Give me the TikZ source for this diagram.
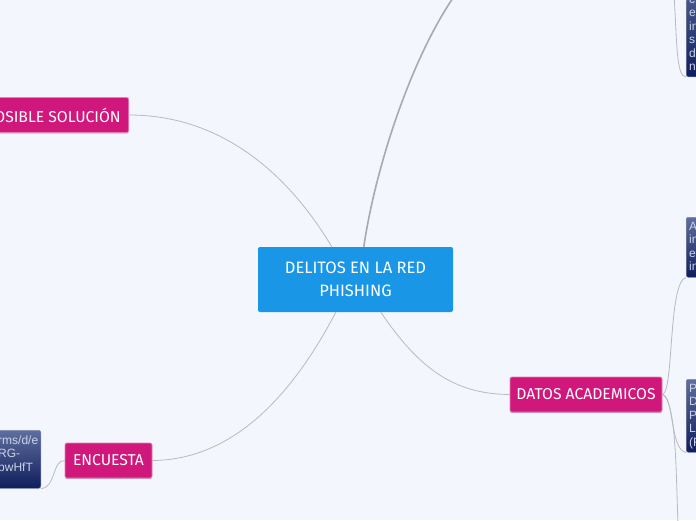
\documentclass[tikz,border=0pt]{standalone}
\usepackage{fontspec}
\setmainfont{Liberation Sans}
\newfontfamily\handfont{Fira Sans}
\usetikzlibrary{shadows,calc}
\definecolor{bg}{HTML}{F3F6FD}
\definecolor{centralblue}{HTML}{1A96E6}
\definecolor{magcol}{HTML}{D0187C}
\definecolor{navytop}{HTML}{5E6E9E}
\definecolor{navybot}{HTML}{0F1E5C}
\definecolor{navyedge}{HTML}{7C88AE}
\definecolor{boxtxt}{HTML}{CDD3E6}
\definecolor{linegray}{HTML}{B8BAC2}
\definecolor{maingray}{HTML}{A9A9AE}
\begin{document}
\begin{tikzpicture}[x=1pt,y=-1pt,
  central/.style={rectangle, rounded corners=2pt, fill=centralblue, text=white,
    font=\handfont\fontsize{16.5}{22.5}\selectfont, align=center, inner sep=0pt},
  topic/.style={rectangle, rounded corners=2pt, fill=magcol, draw=magcol!55!white,
    line width=0.7pt, text=white, font=\handfont\fontsize{15.7}{18}\selectfont,
    inner ysep=0pt, inner xsep=5pt, minimum height=35pt,
    drop shadow={shadow xshift=0pt, shadow yshift=-1.2pt, opacity=0.25, fill=black}},
  navybox/.style={rectangle, rounded corners=2pt, top color=navytop, bottom color=navybot,
    draw=navyedge, line width=0.5pt, inner sep=0pt},
  boxtext/.style={text=boxtxt, font=\fontsize{12}{13.4}\selectfont, inner sep=0pt},
  conn/.style={draw=linegray, line width=0.8pt},
  mainconn/.style={draw=maingray, line width=1.6pt}]
\clip (0,0) rectangle (696,520);
\fill[bg] (0,0) rectangle (696,520);

% text boxes (partly outside the picture)
\node[navybox, anchor=south west, minimum width=40pt, minimum height=110pt] (b1) at (686,77) {};
\node[boxtext, anchor=base west] (b1t1) at (689,3.4) {c};
\node[boxtext, anchor=base west] (b1t2) at (689,16.8) {e};
\node[boxtext, anchor=base west] (b1t3) at (689,30.2) {in};
\node[boxtext, anchor=base west] (b1t4) at (689,43.6) {s};
\node[boxtext, anchor=base west] (b1t5) at (689,57.0) {d};
\node[boxtext, anchor=base west] (b1t6) at (689,70.4) {n};
\node[navybox, anchor=north west, minimum width=40pt, minimum height=60pt] (b2) at (686,217) {};
\node[boxtext, anchor=base west] (b2t1) at (689,230.5) {A};
\node[boxtext, anchor=base west] (b2t2) at (689,243.9) {in};
\node[boxtext, anchor=base west] (b2t3) at (689,257.3) {e};
\node[boxtext, anchor=base west] (b2t4) at (689,270.7) {in};
\node[navybox, anchor=north west, minimum width=40pt, minimum height=73pt] (b3) at (686,379) {};
\node[boxtext, anchor=base west] (b3t1) at (689,392.4) {P};
\node[boxtext, anchor=base west] (b3t2) at (689,405.8) {D};
\node[boxtext, anchor=base west] (b3t3) at (689,419.2) {P};
\node[boxtext, anchor=base west] (b3t4) at (689,432.6) {L};
\node[boxtext, anchor=base west] (b3t5) at (689,446.0) {(F};
\node[navybox, anchor=north east, minimum width=60pt, minimum height=58pt] (b4) at (41,430) {};
\node[boxtext, anchor=base west] (b4t1) at (-2,444.4) {rms/d/e};
\node[boxtext, anchor=base west] (b4t2) at (-2,457.8) {RG-};
\node[boxtext, anchor=base west] (b4t3) at (-2,471.2) {pwHfT};

% main nodes
\node[central, minimum width=195pt, minimum height=65pt] (c) at (355.5,279.5) {DELITOS EN LA RED\\PHISHING};
\node[topic, anchor=east, inner xsep=8pt] (ps) at (129,115) {POSIBLE SOLUCIÓN};
\node[topic, minimum width=87pt] (enc) at (108.5,460.5) {ENCUESTA};
\node[topic, minimum width=152pt] (dat) at (586,394.5) {DATOS ACADEMICOS};

% free ends
\coordinate (topend) at (455,-5);
\coordinate (toprightend) at (674,-5);
\coordinate (bottomend) at (678,525);

% connectors
\draw[mainconn] ([xshift=106pt]c.north west) .. controls (375,170) and (410,60) .. (topend);
\draw[conn] (ps.east) .. controls (230,115) and (295,185) .. ([xshift=74pt]c.north west);
\draw[conn] ([xshift=78pt]c.south west) .. controls (290,400) and (230,460) .. (enc.east);
\draw[conn] ([xshift=123pt]c.south west) .. controls (420,370) and (455,394) .. (dat.west);
\draw[conn] (dat.east) .. controls (674,392) and (668,282) .. (b2.south west);
\draw[conn] (dat.east) .. controls (674,396) and (670,450) .. (b3.south west);
\draw[conn] (dat.east) .. controls (676,400) and (676,470) .. (bottomend);
\draw[conn] (toprightend) .. controls (677,40) and (676,77) .. (b1.south west);
\draw[conn] (enc.west) .. controls (52,460) and (56,488) .. (b4.south east);
\end{tikzpicture}
\end{document}
